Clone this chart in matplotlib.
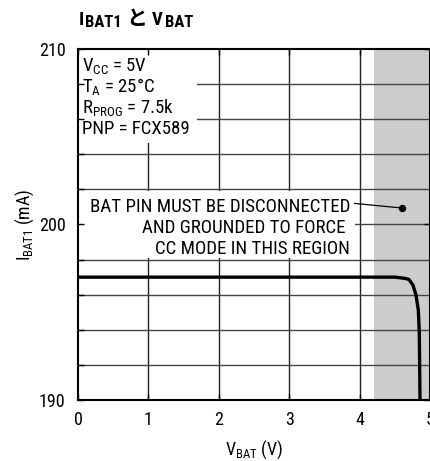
import matplotlib.pyplot as plt
from matplotlib.patches import Rectangle
from matplotlib.transforms import IdentityTransform

# Battery current vs. battery voltage, CC mode
v_bat = [0.0, 4.5, 4.645, 4.70, 4.758, 4.801, 4.834, 4.848, 4.858]
i_bat = [197.0, 197.0, 196.93, 196.87, 196.55, 195.98, 195.13, 193.87, 190.0]

x_ticks = [0, 1, 2, 3, 4, 5]
y_ticks = [190, 200, 210]
y_grid = [192, 194, 196, 198, 200, 202, 204, 206, 208]
shade_from = 4.2
note_point = (4.6, 200.94)

conditions = [r'V$_\mathregular{CC}$ = 5V',
              r'T$_\mathregular{A}$ = 25°C',
              r'R$_\mathregular{PROG}$ = 7.5k',
              'PNP = FCX589']
note_lines = ['BAT PIN MUST BE DISCONNECTED',
              'AND GROUNDED TO FORCE ',
              'CC MODE IN THIS REGION']
# title pieces: text, size, drop below baseline (px), gap before (px)
title_parts = [('I', 13.5, 0, 0), ('BAT1', 12, 2, 1), ('と', 15, 0, 3),
               ('V', 13.5, 0, 2), ('BAT', 12, 2, 0)]

plt.rcParams['font.family'] = ['Roboto Condensed', 'Noto Sans CJK JP', 'DejaVu Sans']
plt.rcParams['mathtext.default'] = 'regular'

fig = plt.figure(figsize=(4.31, 4.61), dpi=100)
ax = fig.add_axes([78 / 431, 1 - 400 / 461, 352 / 431, 351 / 461])
ax.set_xlim(0, 5)
ax.set_ylim(190, 210)

# grey region where the BAT pin has to be grounded
ax.axvspan(shade_from, 5, color='#cccccc', lw=0, zorder=0.2)

for x in x_ticks[1:-1]:
    ax.axvline(x, color='#222222', lw=1.0, zorder=0.5)
for y in y_grid:
    ax.axhline(y, color='#444444', lw=1.0, zorder=0.5)

ax.plot(v_bat, i_bat, color='black', lw=2.4, solid_capstyle='butt', zorder=3)

# white boxes behind the notes
ax.add_patch(Rectangle((0, 204.64), 1.69, 5.36, facecolor='white',
                       edgecolor='none', zorder=1))
ax.add_patch(Rectangle((0, 198.1), 3.93, 3.8, facecolor='white',
                       edgecolor='none', zorder=1))

for k, s in enumerate(conditions):
    ax.text(0.05, 208.75 - k * 1.2, s, fontsize=13.5, ha='left',
            va='baseline', zorder=4)
for k, s in enumerate(note_lines):
    ax.text(3.865, 200.71 - k * 1.2, s, fontsize=13.6, ha='right',
            va='baseline', zorder=4)

ax.plot([3.93, note_point[0]], [201.2, note_point[1]], color='black',
        lw=0.9, zorder=4)
ax.plot(*note_point, 'o', color='black', ms=4.3, zorder=4)

ax.set_xticks(x_ticks)
ax.set_yticks(y_ticks)
ax.set_yticks(y_grid, minor=True)
ax.tick_params(which='both', direction='in', length=4, width=1,
               top=True, right=True, labelsize=13)
ax.tick_params(axis='y', which='major', pad=9)
ax.tick_params(axis='x', which='major', pad=8)
ax.tick_params(which='minor', right=False, labelleft=False)
ax.set_axisbelow(False)
for sp in ax.spines.values():
    sp.set_linewidth(1.5)
    sp.set_zorder(5)

ax.set_xlabel(r'V$_\mathregular{BAT}$ (V)', fontsize=13, labelpad=7)
ax.set_ylabel(r'I$_\mathregular{BAT1}$ (mA)', fontsize=13, labelpad=2)

# title built piece by piece so the kana gets a CJK font
renderer = fig.canvas.get_renderer()
x = 79
for s, size, drop, gap in title_parts:
    t = fig.text(x + gap, 461 - 25 - drop, s, fontsize=size, fontweight='bold',
                 ha='left', va='baseline', transform=IdentityTransform())
    x = t.get_window_extent(renderer).x1 + gap

fig.savefig('out.png', dpi=100)
